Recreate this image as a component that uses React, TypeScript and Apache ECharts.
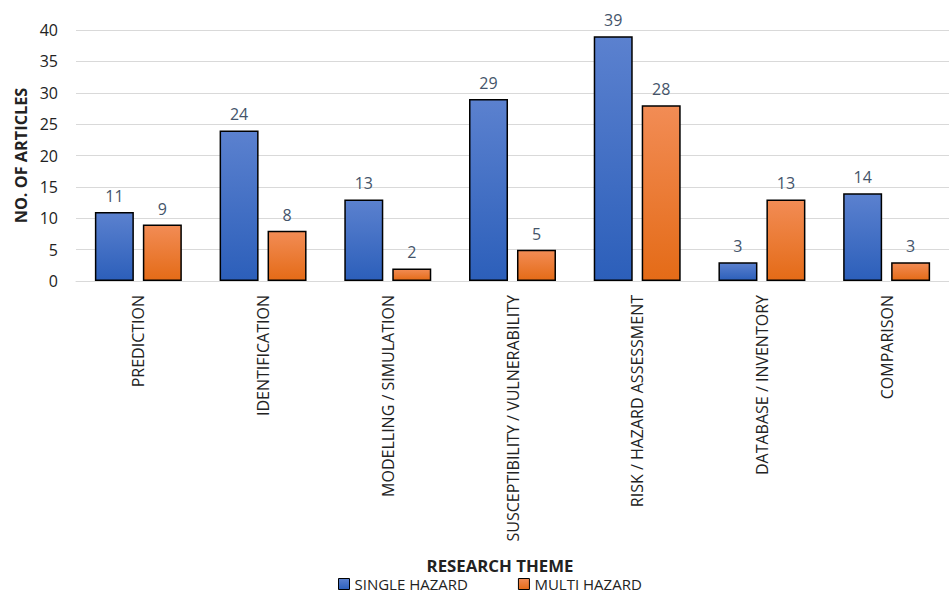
import React, { useEffect, useRef } from "react";
import * as echarts from "echarts";

const categories = [
  "PREDICTION",
  "IDENTIFICATION",
  "MODELLING / SIMULATION",
  "SUSCEPTIBILITY / VULNERABILITY",
  "RISK / HAZARD ASSESSMENT",
  "DATABASE / INVENTORY",
  "COMPARISON",
];
const singleHazard = [11, 24, 13, 29, 39, 3, 14];
const multiHazard = [9, 8, 2, 5, 28, 13, 3];
const seriesNames = ["SINGLE HAZARD", "MULTI HAZARD"];

const FONT = "Open Sans";

export default function App() {
  const ref = useRef<HTMLDivElement>(null);
  useEffect(() => {
    document.body.style.margin = "0";
    const chart = echarts.init(ref.current!, null, { renderer: "svg" });
    const blue = new echarts.graphic.LinearGradient(0, 0, 0, 1, [
      { offset: 0, color: "#5b81cf" },
      { offset: 1, color: "#2c5fba" },
    ]);
    const orange = new echarts.graphic.LinearGradient(0, 0, 0, 1, [
      { offset: 0, color: "#f28c55" },
      { offset: 1, color: "#e46b17" },
    ]);
    const labelStyle = {
      show: true,
      position: "top" as const,
      distance: 8,
      color: "#44546a",
      fontSize: 16,
      fontFamily: FONT,
    };
    chart.setOption({
      animation: false,
      textStyle: { fontFamily: FONT },
      grid: { left: 76, width: 882, top: 30, height: 251, containLabel: false },
      legend: {
        top: 575,
        left: 338,
        padding: 0,
        itemWidth: 11,
        itemHeight: 11,
        itemGap: 50,
        icon: "rect",
        textStyle: { fontSize: 15, color: "#222", fontFamily: FONT, lineHeight: 18 },
        data: seriesNames.map((n) => ({
          name: n,
          itemStyle: { borderColor: "#000", borderWidth: 1 },
        })),
      },
      xAxis: {
        type: "category",
        data: categories,
        axisLine: { show: true, lineStyle: { color: "#d9d9d9", width: 1 } },
        axisTick: { show: false },
        axisLabel: {
          rotate: 90,
          margin: 14,
          interval: 0,
          fontSize: 16,
          color: "#222",
          fontFamily: FONT,
        },
      },
      yAxis: {
        type: "value",
        min: 0,
        max: 40,
        interval: 5,
        name: "NO. OF ARTICLES",
        nameLocation: "middle",
        nameGap: 46,
        nameTextStyle: { fontSize: 16.3, fontWeight: "bold", color: "#222", fontFamily: FONT },
        axisLine: { show: false },
        axisTick: { show: false },
        axisLabel: { fontSize: 16, color: "#222", margin: 18, fontFamily: FONT },
        splitLine: { lineStyle: { color: "#d9d9d9", width: 1 } },
      },
      graphic: [
        {
          type: "text",
          x: 500,
          y: 565,
          style: {
            text: "RESEARCH THEME",
            fontSize: 16.8,
            fontWeight: "bold",
            fill: "#222",
            fontFamily: FONT,
            align: "center",
            verticalAlign: "middle",
          },
        },
      ],
      series: [
        {
          name: seriesNames[0],
          type: "bar",
          data: singleHazard,
          barWidth: 39,
          barGap: "23%",
          itemStyle: { color: blue, borderColor: "#000", borderWidth: 1.5 },
          label: labelStyle,
        },
        {
          name: seriesNames[1],
          type: "bar",
          data: multiHazard,
          barWidth: 39,
          itemStyle: { color: orange, borderColor: "#000", borderWidth: 1.5 },
          label: labelStyle,
        },
      ],
    });
    return () => chart.dispose();
  }, []);
  return <div ref={ref} style={{ width: 949, height: 598 }} />;
}
